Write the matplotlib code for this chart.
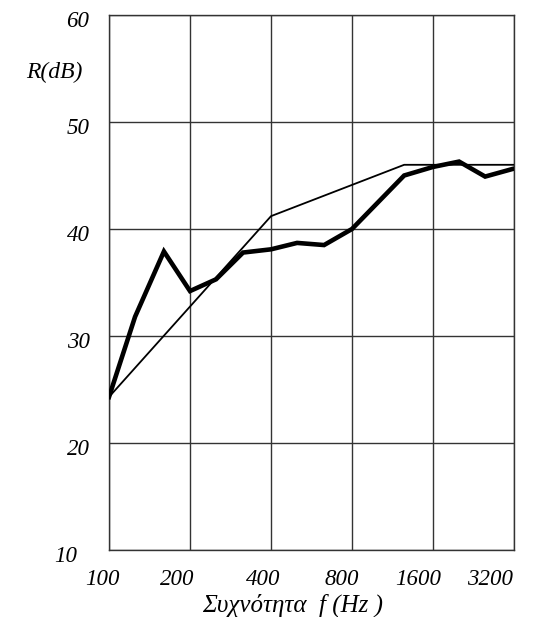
import numpy as np
import matplotlib
matplotlib.use('Agg')
import matplotlib.pyplot as plt
import matplotlib.transforms as mtransforms

# 1/3 octave band measurement (heavy line)
freq = [100, 125, 160, 200, 250, 315, 400, 500, 630, 800,
        1250, 1600, 2000, 2500, 3150]
R_meas = [24.3, 31.8, 37.9, 34.2, 35.3, 37.8, 38.1, 38.7, 38.5, 40.0,
          45.0, 45.8, 46.3, 44.9, 45.6]

# shifted reference curve (thin line)
ref_freq = [100, 400, 1250, 3200]
R_ref = [24.3, 41.2, 46.0, 46.0]

xticks = [100, 200, 400, 800, 1600, 3200]
xtick_labels = ['100', '200', '400', '800', '1600', '3200']
yticks = [10, 20, 30, 40, 50, 60]

plt.rcParams['font.family'] = ['Liberation Serif', 'DejaVu Serif']
plt.rcParams['font.style'] = 'italic'

fig = plt.figure(figsize=(5.33, 6.17), dpi=100)
ax = fig.add_axes([109/533, 1-550/617, 405/533, 535/617])

ax.plot(ref_freq, R_ref, color='black', lw=1.3, zorder=3)
ax.plot(freq, R_meas, color='black', lw=3.3, solid_joinstyle='miter', zorder=4)

ax.set_xscale('log', base=2)
ax.set_xlim(100, 3200)
ax.set_ylim(10, 60)
ax.set_xticks(xticks)
ax.set_xticklabels(xtick_labels)
ax.xaxis.set_minor_locator(matplotlib.ticker.NullLocator())
ax.set_yticks(yticks)
ax.grid(True, color='#333333', lw=1.0)
for s in ax.spines.values():
    s.set_color('#333333')
    s.set_linewidth(1.0)
ax.tick_params(length=0, labelsize=16.5)
ax.tick_params(axis='y', pad=14)
ax.tick_params(axis='x', pad=14)

# labels in the original sit a little off their grid lines
dpi = fig.dpi
x_shift = [-7, -13, -8, -10, -15, -24]
for lab, dx in zip(ax.get_xticklabels(), x_shift):
    lab.set_transform(lab.get_transform() +
                      mtransforms.ScaledTranslation(dx/dpi, 0, fig.dpi_scale_trans))
for lab, yv in zip(ax.get_yticklabels(), yticks):
    dx = -12 if yv == 10 else 0
    lab.set_transform(lab.get_transform() +
                      mtransforms.ScaledTranslation(dx/dpi, -4/dpi, fig.dpi_scale_trans))

fig.text(54/533, 1-72/617, 'R(dB)', fontsize=17, ha='center', va='center')
fig.text(293/533, 1-605/617, 'Συχνότητα  f (Hz )', fontsize=18, ha='center', va='center')

plt.savefig('out.png', dpi=100)
plt.close()
